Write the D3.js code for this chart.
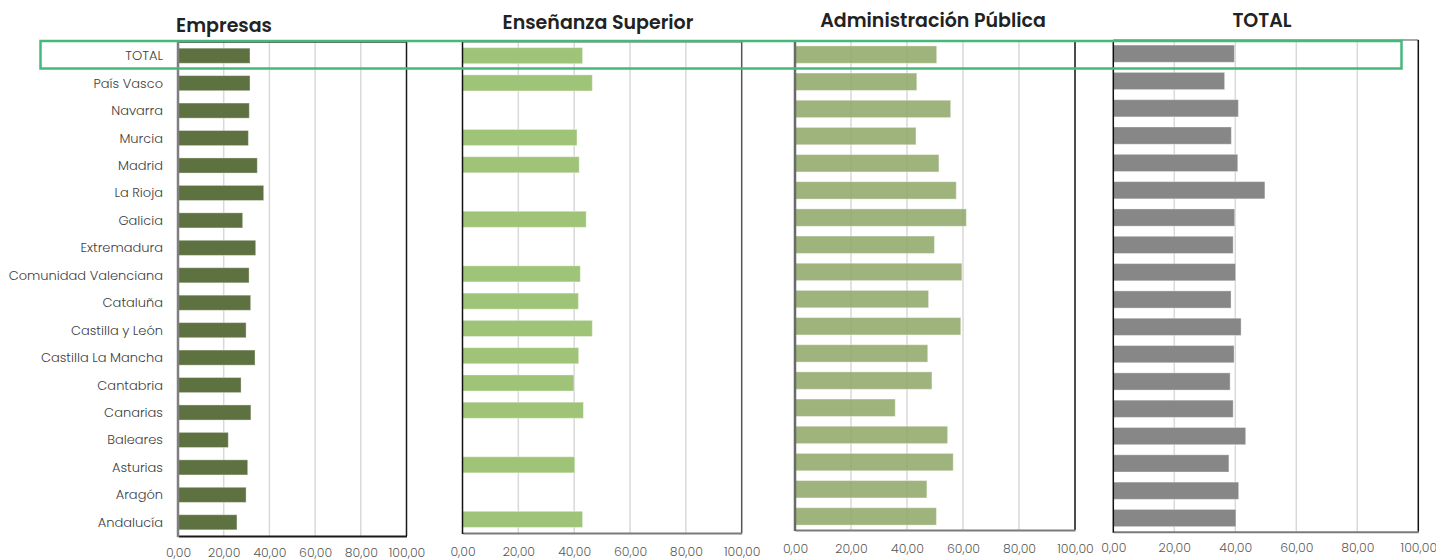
<!DOCTYPE html>
<html>
<head>
<meta charset="utf-8">
<script src="https://cdn.jsdelivr.net/npm/d3@7"></script>
<style>
  html, body { margin: 0; padding: 0; background: #ffffff; }
  svg { display: block; }
  text { font-family: "Poppins", "Open Sans", "Noto Sans", sans-serif; }
</style>
</head>
<body>
<svg id="chart" width="1436" height="560"></svg>
<script>
// ---- Data ----
const categories = ["TOTAL", "País Vasco", "Navarra", "Murcia", "Madrid", "La Rioja", "Galicia",
  "Extremadura", "Comunidad Valenciana", "Cataluña", "Castilla y León", "Castilla La Mancha",
  "Cantabria", "Canarias", "Baleares", "Asturias", "Aragón", "Andalucía"];

const panelTitles = ["Empresas", "Enseñanza Superior", "Administración Pública", "TOTAL"];

const empresas = [31.5, 31.5, 31.2, 30.8, 34.7, 37.5, 28.3, 34.0, 31.1, 31.8, 29.8, 33.7,
  27.6, 31.9, 22.0, 30.5, 29.8, 25.8];

const ensenanzaSuperior = [43.0, 46.5, null, 41.0, 41.8, null, 44.3, null, 42.2, 41.5, 46.5, 41.6,
  39.9, 43.3, null, 40.2, null, 43.0];

const administracionPublica = [50.6, 43.5, 55.6, 43.2, 51.4, 57.6, 61.2, 49.8, 59.6, 47.7, 59.2, 47.4,
  48.9, 35.8, 54.5, 56.5, 47.1, 50.5];

const totalValues = [39.7, 36.5, 41.0, 38.7, 40.8, 49.7, 39.8, 39.3, 40.1, 38.6, 41.9, 39.6,
  38.3, 39.3, 43.4, 37.9, 41.1, 40.2];

const xTicks = [0, 20, 40, 60, 80, 100];

// ---- Layout / style (not data) ----
const svg = d3.select("#chart");
const locale = d3.formatLocale({ decimal: ",", thousands: ".", grouping: [3], currency: ["", "€"] });
const fmt = locale.format(".2f");

const panels = [
  { values: empresas, x0: 178, x1: 406.5, y0: 42, y1: 536, pad: 0.45, color: "#5e7140", opacity: 1,
    titleX: 224, titleY: 32, tickY: 556.5, left: "#7f7f7f", leftW: 2.5, right: "#1a1a1a", bottom: "#1a1a1a", top: "#333", labels: true },
  { values: ensenanzaSuperior, x0: 462.5, x1: 741.7, y0: 42, y1: 533, pad: 0.41, color: "#a0c477", opacity: 1,
    titleX: 598, titleY: 29, tickY: 555.5, left: "#111", leftW: 1.5, right: "#555", bottom: "#7a7a7a", top: "#999", labels: false },
  { values: administracionPublica, x0: 795, x1: 1075, y0: 41, y1: 530, pad: 0.36, color: "#8ea766", opacity: 0.85,
    titleX: 933, titleY: 27, tickY: 552.5, left: "#6a6a6a", leftW: 2.5, right: "#111", bottom: "#7a7a7a", top: null, labels: false },
  { values: totalValues, x0: 1113.3, x1: 1418.3, y0: 40, y1: 531.7, pad: 0.37, color: "#878787", opacity: 1,
    titleX: 1262, titleY: 27, tickY: 552.5, left: "#111", leftW: 1.5, right: "#111", bottom: "#7a7a7a", top: "#8a8a8a", labels: false }
];

panels.forEach((p, i) => {
  const x = d3.scaleLinear().domain([0, 100]).range([p.x0, p.x1]);
  const y = d3.scaleBand().domain(categories).range([p.y0, p.y1])
    .paddingInner(p.pad).paddingOuter(p.pad / 2);

  const g = svg.append("g");

  // Gridlines
  g.append("g").selectAll("line").data(xTicks.slice(1, -1)).join("line")
    .attr("x1", d => x(d)).attr("x2", d => x(d))
    .attr("y1", p.y0).attr("y2", p.y1)
    .attr("stroke", "#d9d9d9").attr("stroke-width", 1.5);

  // Bars
  const data = categories.map((c, k) => ({ c, v: p.values[k] })).filter(d => d.v !== null);
  g.append("g").selectAll("rect").data(data).join("rect")
    .attr("x", x(0))
    .attr("y", d => y(d.c))
    .attr("width", d => x(d.v) - x(0))
    .attr("height", y.bandwidth())
    .attr("fill", p.color)
    .attr("fill-opacity", p.opacity)
    .attr("stroke", "#ffffff").attr("stroke-opacity", 0.35).attr("stroke-width", 1);

  // Frame
  if (p.top) g.append("line").attr("x1", p.x0).attr("x2", p.x1).attr("y1", p.y0).attr("y2", p.y0)
    .attr("stroke", p.top).attr("stroke-width", 1.5);
  g.append("line").attr("x1", p.x1).attr("x2", p.x1).attr("y1", p.y0).attr("y2", p.y1)
    .attr("stroke", p.right).attr("stroke-width", 1.5);

  // X axis
  const axis = d3.axisBottom(x).tickValues(xTicks).tickFormat(fmt).tickSize(0).tickPadding(0);
  const ax = g.append("g").attr("transform", `translate(0,${p.y1})`).call(axis);
  ax.select(".domain").attr("stroke", p.bottom).attr("stroke-width", 2);
  ax.selectAll("text")
    .attr("y", p.tickY - p.y1).attr("dy", "0")
    .attr("fill", "#595959")
    .style("font-size", "12.5px")
    .style("font-weight", "300")
    .style("font-family", '"Poppins", "Open Sans", sans-serif');

  g.append("line").attr("x1", p.x0).attr("x2", p.x0).attr("y1", p.y0).attr("y2", p.y1 + 1)
    .attr("stroke", p.left).attr("stroke-width", p.leftW);

  // Category labels
  if (p.labels) {
    g.append("g").selectAll("text").data(categories).join("text")
      .attr("x", 163)
      .attr("y", d => y(d) + y.bandwidth() / 2)
      .attr("dy", "0.35em")
      .attr("text-anchor", "end")
      .attr("fill", "#404040")
      .style("font-size", "13px")
      .style("font-weight", "300")
      .text(d => d);
  }

  // Title
  svg.append("text")
    .attr("x", p.titleX).attr("y", p.titleY)
    .attr("text-anchor", "middle")
    .attr("fill", "#222")
    .style("font-size", "19px")
    .style("font-weight", "600")
    .text(panelTitles[i]);
});

// Highlight rectangle around TOTAL row
svg.append("rect")
  .attr("x", 40.5).attr("y", 41).attr("width", 1361).attr("height", 27.5)
  .attr("fill", "none").attr("stroke", "#45b97c").attr("stroke-width", 2.5);
</script>
</body>
</html>
